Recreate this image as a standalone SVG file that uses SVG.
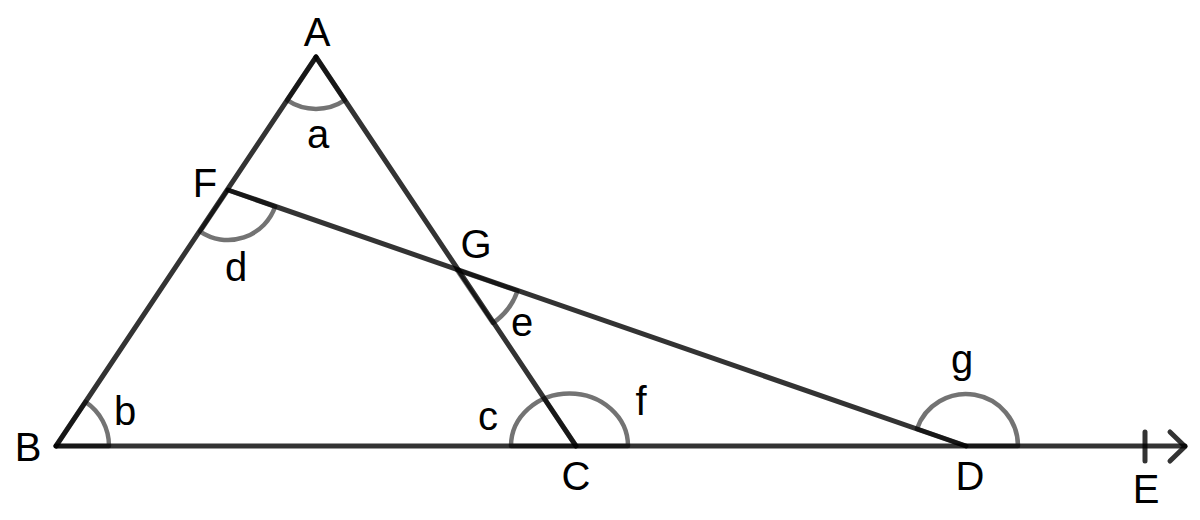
<svg xmlns="http://www.w3.org/2000/svg" width="1200" height="520" viewBox="0 0 1200 520">
<style>
.ln{fill:none;stroke:#000;stroke-opacity:0.8;stroke-width:5;stroke-linecap:round;stroke-linejoin:round}
.arc{fill:none;stroke:#000;stroke-opacity:0.55;stroke-width:4.5;stroke-linejoin:round}
.lb{font-family:"Liberation Sans",Arial,sans-serif;font-size:40px;fill:#000;text-anchor:middle}
</style>
<rect width="1200" height="520" fill="#fff"/>
<g id="connectors">
<line class="ln" x1="56" y1="446" x2="1185" y2="446"/>
<line class="ln" x1="316" y1="57" x2="56" y2="446"/>
<line class="ln" x1="316" y1="57" x2="576" y2="446"/>
<line class="ln" x1="228" y1="190" x2="966" y2="446"/>
<line class="ln" x1="1145" y1="432" x2="1145" y2="461"/>
<polyline class="ln" points="1170,432 1185,446.5 1170,461"/>
</g>
<g id="angles">
<path id="angle-a" class="arc" d="M316,57 L287.1,100.2 A52,52 0 0 0 344.9,100.2 Z"/>
<path id="angle-d" class="arc" d="M228,190 L200.2,231.6 A50,50 0 0 0 275.2,206.5 Z"/>
<path id="angle-b" class="arc" d="M56,446 L85.4,401.9 A53,53 0 0 1 109,446 Z"/>
<path id="angle-e" class="arc" d="M457,270 L492.8,323 A64,64 0 0 0 517.5,290.9 Z"/>
<path id="angle-cf" class="arc" d="M511,446 A58,52 0 0 1 628,446 Z M576,446 L544.6,399"/>
<path id="angle-g" class="arc" d="M966,446 L916.9,428.9 A52,52 0 0 1 1018,446 Z"/>
</g>
<g id="node-A"><text class="lb" x="317" y="46">A</text></g>
<g id="node-B"><text class="lb" x="28" y="461">B</text></g>
<g id="node-C"><text class="lb" x="576" y="490">C</text></g>
<g id="node-D"><text class="lb" x="970" y="490">D</text></g>
<g id="node-E"><text class="lb" x="1146" y="503">E</text></g>
<g id="node-F"><text class="lb" x="205" y="197">F</text></g>
<g id="node-G"><text class="lb" x="476" y="258">G</text></g>
<g id="labels">
<text class="lb" x="318" y="148">a</text>
<text class="lb" x="125" y="425">b</text>
<text class="lb" x="488" y="430">c</text>
<text class="lb" x="236" y="281">d</text>
<text class="lb" x="522" y="336">e</text>
<text class="lb" x="641" y="415">f</text>
<text class="lb" x="962" y="373">g</text>
</g>
</svg>
